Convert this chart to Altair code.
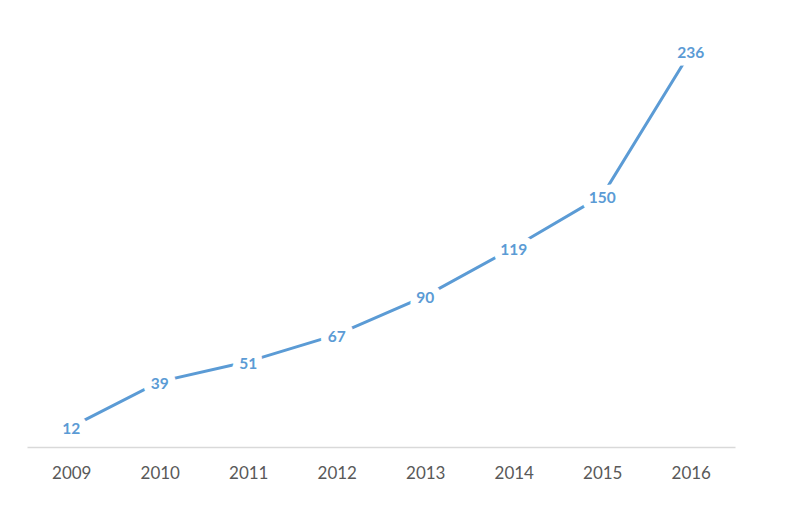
import altair as alt
import pandas as pd

years = ["2009", "2010", "2011", "2012", "2013", "2014", "2015", "2016"]
values = [12, 39, 51, 67, 90, 119, 150, 236]

df = pd.DataFrame({"year": years, "value": values})

BLUE = "#5b9bd5"
FONT = "Lato"

x = alt.X("year:O", sort=years,
          scale=alt.Scale(type="point", padding=0.5),
          axis=alt.Axis(title=None, labelAngle=0, ticks=False, grid=False,
                        domainColor="#d9d9d9", domainWidth=1.5,
                        labelFont=FONT, labelFontSize=17, labelColor="#595959",
                        labelPadding=18))
y = alt.Y("value:Q", scale=alt.Scale(domain=[0, 250], nice=False, zero=True), axis=None)

base = alt.Chart(df).encode(x=x, y=y)

line = base.mark_line(color=BLUE, strokeWidth=3)
halo = base.mark_text(font=FONT, fontSize=15.5, fontWeight="bold", color="white",
                      stroke="white", strokeWidth=15, strokeJoin="round", dy=2,
                      baseline="middle", align="center").encode(text="value:Q")
labels = base.mark_text(font=FONT, fontSize=15.5, fontWeight="bold", color=BLUE, dy=2,
                        baseline="middle", align="center").encode(text="value:Q")

chart = alt.layer(line, halo, labels).properties(
    width=708, height=419,
    padding={"left": 19, "top": 20, "right": 57, "bottom": 59},
    autosize=alt.AutoSizeParams(type="none"),
).configure(background="white").configure_view(strokeWidth=0, stroke=None)

chart.save("out.html", embed_options={"renderer": "svg", "actions": False})
